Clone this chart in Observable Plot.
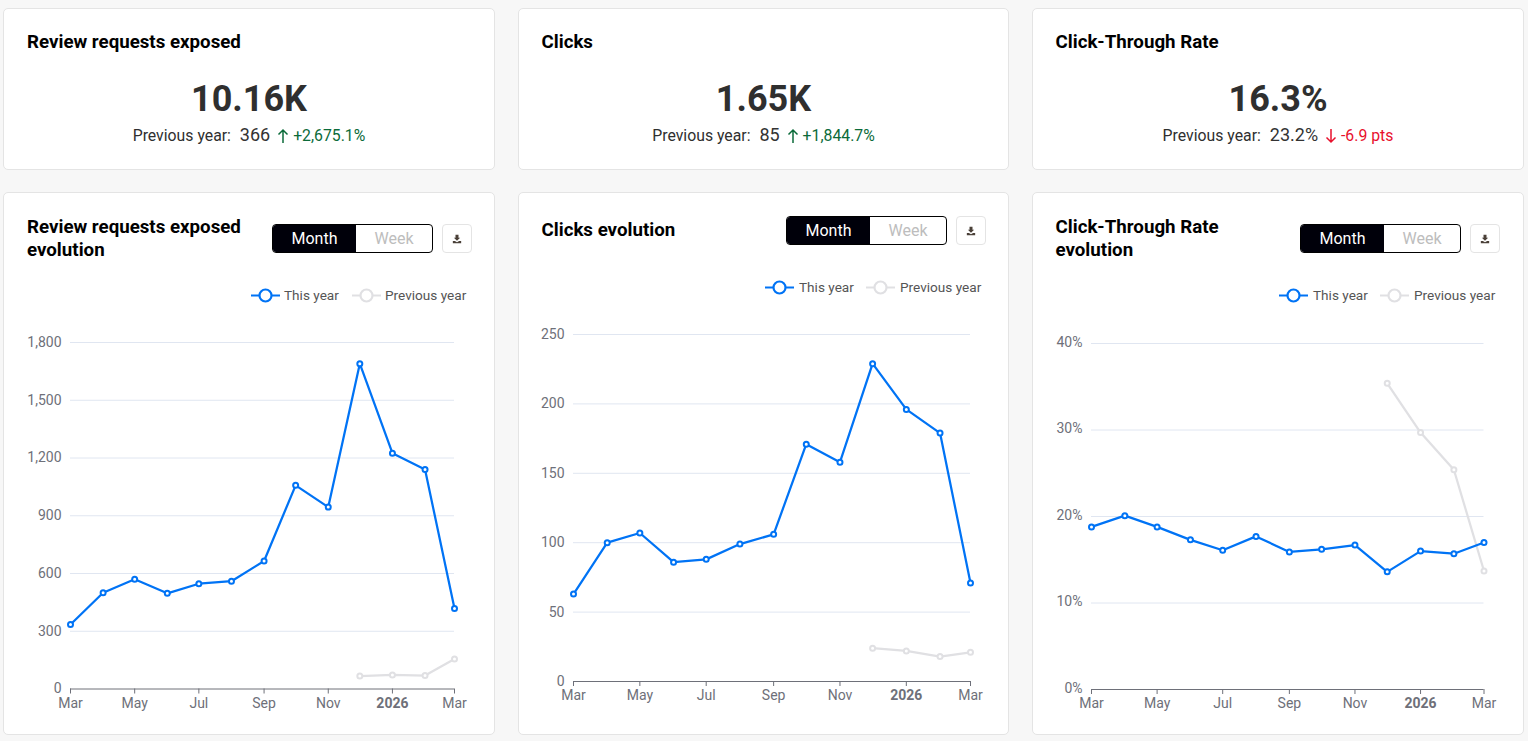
<!DOCTYPE html>
<html><head><meta charset="utf-8">
<script src="https://cdn.jsdelivr.net/npm/d3@7"></script>
<script src="https://cdn.jsdelivr.net/npm/@observablehq/plot@0.6"></script>
<style>
html,body{margin:0;padding:0;background:#f7f7f7;width:1528px;height:741px;overflow:hidden;font-family:Roboto,sans-serif}
.card{position:absolute;background:#fff;border:1px solid #e4e4e4;border-radius:5px;box-sizing:border-box}
.abs{position:absolute;white-space:nowrap}
.ttl{font-weight:700;font-size:18.72px;line-height:23px;color:#000}
.kpi{font-weight:700;font-size:36px;line-height:44px;color:#2f2f2f;text-align:center}
.prev{font-size:15.8px;line-height:20px;color:#2f2f2f;text-align:center}
.prev .n{font-size:18px;margin:0 1px 0 5px;color:#333}
.up{color:#0b6b3a}.down{color:#e8112d}
.seg{position:absolute;width:159px;height:27px;border:1px solid #000;border-radius:4px;box-sizing:content-box;display:flex;overflow:hidden;font-size:16px;line-height:27px;text-align:center;background:#fff}
.seg .a{width:83px;background:#00000a;color:#fff}.seg .b{flex:1;color:#bdbdbd}
.dl{position:absolute;width:28px;height:27px;border:1px solid #e4e4e4;border-radius:4px;background:#fff;box-sizing:content-box;text-align:center}
.lg{position:absolute;font-size:13.6px;line-height:16px;color:#555;white-space:nowrap}
svg.plot{position:absolute;overflow:visible}
</style></head><body>
<script>
const months=["2025-03-01","2025-04-01","2025-05-01","2025-06-01","2025-07-01","2025-08-01","2025-09-01","2025-10-01","2025-11-01","2025-12-01","2026-01-01","2026-02-01","2026-03-01"];
const prevMonths=["2025-12-01","2026-01-01","2026-02-01","2026-03-01"];
const requestsThis=[335,500,570,497,547,560,665,1058,945,1690,1225,1140,418];
const requestsPrev=[67,73,70,156];
const clicksThis=[63,100,107,86,88,99,106,171,158,229,196,179,71];
const clicksPrev=[24,22,18,21];
const ctrThis=[18.8,20.1,18.8,17.3,16.1,17.7,15.9,16.2,16.7,13.6,16.0,15.7,17.0];
const ctrPrev=[35.4,29.7,25.4,13.7];
const monthTicks=["2025-03-01","2025-05-01","2025-07-01","2025-09-01","2025-11-01","2026-03-01"];
const yearTicks=["2026-01-01"];
const requestsTicks=[0,300,600,900,1200,1500,1800];
const clicksTicks=[0,50,100,150,200,250];
const ctrTicks=[0,10,20,30,40];
const kpis=[
 {title:"Review requests exposed",value:"10.16K",prev:"366",arrow:"up",delta:"+2,675.1%"},
 {title:"Clicks",value:"1.65K",prev:"85",arrow:"up",delta:"+1,844.7%"},
 {title:"Click-Through Rate",value:"16.3%",prev:"23.2%",arrow:"down",delta:"-6.9 pts"}];
const evolutions=[["Review requests exposed","evolution"],["Clicks evolution"],["Click-Through Rate","evolution"]];

const BLUE="#0073f5",GREY="#e0e0e3",AX="#6e7079";
const D=s=>new Date(s+"T00:00:00Z");
const geo=[
 {cx:3,cw:492,tx:27,seg:272,dl:442,lgy:295.5,lgm:0,x0:69.5,x1:453.5,y0:688.5,yT:342,labelDy:0,max:1800,ticks:requestsTicks,cur:requestsThis,prv:requestsPrev,fmt:d3.format(","),segY:224,ttlY:216},
 {cx:518,cw:491,tx:541.5,seg:786,dl:956,lgy:287.5,lgm:-1,x0:572.5,x1:969.5,y0:681,yT:334,labelDy:0,max:250,ticks:clicksTicks,cur:clicksThis,prv:clicksPrev,fmt:d3.format(","),segY:216,ttlY:219},
 {cx:1032,cw:492,tx:1055.5,seg:1300,dl:1470,lgy:295.5,lgm:-1,x0:1091,x1:1483.5,y0:689,yT:343,labelDy:-1,max:40,ticks:ctrTicks,cur:ctrThis,prv:ctrPrev,fmt:d=>d+"%",segY:224,ttlY:216}];
function el(cls,style,html){const e=document.createElement("div");e.className=cls;Object.assign(e.style,style);e.innerHTML=html||"";document.body.appendChild(e);return e;}
const arrow=(c,up)=>`<svg width="12" height="16" viewBox="0 0 12 16" style="vertical-align:-3px;margin:0 4px 0 2px"><path d="${up?"M6 15V2M1.5 6.5L6 2l4.5 4.500":"M6 1v13M1.5 9.500L6 14l4.500-4.500"}" fill="none" stroke="${c}" stroke-width="1.5"/></svg>`;
const legendSym=(c,m)=>`<svg width="29" height="16" style="position:absolute;left:${m}px;top:0"><line x1="0" x2="29" y1="8.5" y2="8.5" stroke="${c}" stroke-width="2"/><circle cx="14.5" cy="8.5" r="6" fill="#fff" stroke="${c}" stroke-width="2.2"/></svg>`;
geo.forEach((g,i)=>{
 const k=kpis[i];
 el("card",{left:g.cx+"px",top:"8px",width:g.cw+"px",height:"162px"});
 el("abs ttl",{left:g.tx+"px",top:"31px"},k.title);
 el("abs kpi",{left:g.cx+"px",width:g.cw+"px",top:"77px"},k.value);
 const c=k.arrow=="up"?"#0b6b3a":"#e8112d";
 el("abs prev",{left:g.cx+"px",width:g.cw+"px",top:"125px"},`Previous year: <span class="n">${k.prev}</span> ${arrow(c,k.arrow=="up")}<span class="${k.arrow}">${k.delta}</span>`);
 el("card",{left:g.cx+"px",top:"192px",width:g.cw+"px",height:"543px"});
 el("abs ttl",{left:g.tx+"px",top:g.ttlY+"px"},evolutions[i].join("<br>"));
 el("seg",{left:g.seg+"px",top:g.segY+"px"},`<div class="a">Month</div><div class="b">Week</div>`);
 el("dl",{left:g.dl+"px",top:g.segY+"px"},`<svg width="10" height="10" viewBox="0 0 12 12" style="margin-top:9px"><path d="M4.2 1h3.600v3.600h2L6 8 2.200 4.600h2zM1 8.300h2.500L6 10l2.500-1.700H11V11H1z" fill="#4a4038"/></svg>`);
 el("lg",{left:(g.cx+248)+"px",top:(g.lgy-9)+"px",paddingLeft:"33px"},legendSym(BLUE,g.lgm)+"This year");
 el("lg",{left:(g.cx+349)+"px",top:(g.lgy-9)+"px",paddingLeft:"33px"},legendSym(GREY,g.lgm)+"Previous year");

 const left=50,top=20,right=30,bottom=40;
 const cur=months.map((m,j)=>({d:D(m),v:g.cur[j]}));
 const prv=prevMonths.map((m,j)=>({d:D(m),v:g.prv[j]}));
 const svg=Plot.plot({
  width:left+(g.x1-g.x0)+right,height:top+(g.y0-g.yT)+bottom,
  marginLeft:left,marginRight:right,marginTop:top,marginBottom:bottom,
  style:{fontFamily:"Roboto",fontSize:"14px",background:"transparent"},
  x:{type:"utc",domain:[D(months[0]),D(months[12])]},
  y:{domain:[0,g.max]},
  marks:[
   Plot.gridY(g.ticks.slice(1),{stroke:"#e0e6f1",strokeOpacity:1,strokeWidth:1}),
   Plot.axisY(g.ticks,{tickSize:0,tickPadding:9,tickFormat:g.fmt,fill:AX,label:null,fontSize:14,dy:g.labelDy}),
   Plot.ruleY([0],{stroke:AX,strokeWidth:1}),
   Plot.axisX(monthTicks.map(D),{tickSize:5,tickPadding:4,tickFormat:d3.utcFormat("%b"),stroke:AX,fill:AX,label:null,fontSize:14}),
   Plot.axisX(yearTicks.map(D),{tickSize:5,tickPadding:4,tickFormat:d3.utcFormat("%Y"),stroke:AX,fill:AX,label:null,fontSize:14,fontWeight:"bold"}),
   Plot.line(prv,{x:"d",y:"v",stroke:GREY,strokeWidth:2.25}),
   Plot.dot(prv,{x:"d",y:"v",r:2.5,stroke:GREY,strokeWidth:2,fill:"#fff"}),
   Plot.line(cur,{x:"d",y:"v",stroke:BLUE,strokeWidth:2.25}),
   Plot.dot(cur,{x:"d",y:"v",r:2.5,stroke:BLUE,strokeWidth:2,fill:"#fff"})
  ]});
 svg.style.position="absolute";
 svg.style.left=(g.x0-left)+"px";
 svg.style.top=(g.yT-top)+"px";
 svg.style.maxWidth="none";
 document.body.appendChild(svg);
});
</script></body></html>
